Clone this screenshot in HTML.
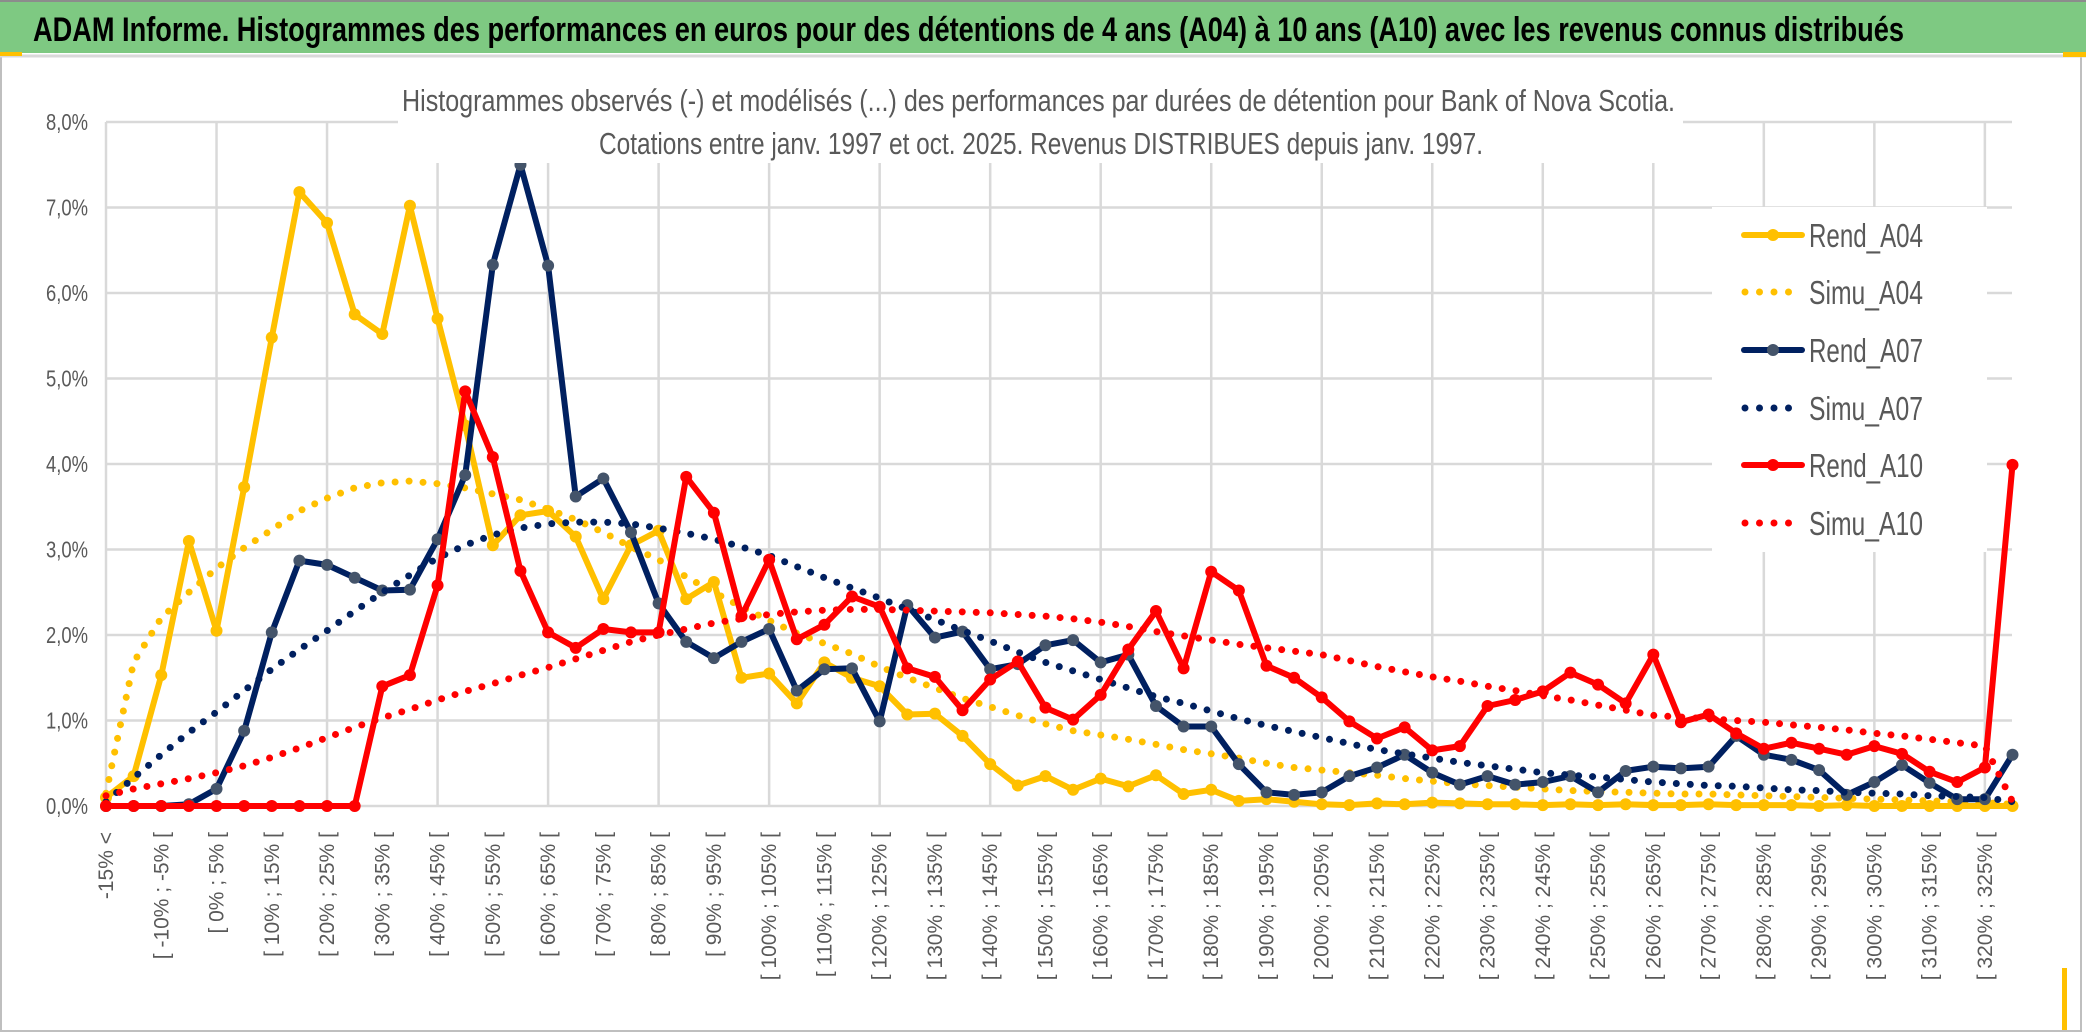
<!DOCTYPE html>
<html><head><meta charset="utf-8"><style>
html,body{margin:0;padding:0;background:#fff;}
svg{display:block;}
text{font-family:"Liberation Sans Narrow","Liberation Sans",sans-serif;}
</style></head><body>
<svg id="chart" width="2086" height="1033" viewBox="0 0 2086 1033" xmlns="http://www.w3.org/2000/svg">
<rect x="0" y="0" width="2086" height="1033" fill="#ffffff"/>
<rect x="1" y="1" width="2080" height="1030" fill="none" stroke="#bfbfbf" stroke-width="2"/>
<rect x="0" y="2" width="2086" height="51" fill="#7ec982"/>
<line x1="0" y1="1" x2="2086" y2="1" stroke="#8c8c8c" stroke-width="2"/>
<line x1="0" y1="56" x2="2086" y2="56" stroke="#d9d9d9" stroke-width="3"/>
<rect x="0" y="52" width="22" height="4" fill="#ffc000"/>
<rect x="2063" y="52" width="23" height="5" fill="#ffc000"/>
<rect x="2062" y="968" width="5" height="62" fill="#ffc000"/>
<text x="33" y="41" font-size="34" font-weight="bold" fill="#000" textLength="1871" lengthAdjust="spacingAndGlyphs">ADAM Informe. Histogrammes des performances en euros pour des détentions de 4 ans (A04) à 10 ans (A10) avec les revenus connus distribués</text>
<g id="grid"></g>
<g id="yaxis"></g>
<g id="xaxis"></g>
<g id="series"></g>
<rect x="398" y="62" width="1285" height="101" fill="#ffffff"/>
<text x="402" y="111" font-size="31" fill="#595959" textLength="1273" lengthAdjust="spacingAndGlyphs">Histogrammes observés (-) et modélisés (...) des performances par durées de détention pour Bank of Nova Scotia.</text>
<text x="599" y="154" font-size="31" fill="#595959" textLength="884" lengthAdjust="spacingAndGlyphs">Cotations entre janv. 1997 et oct. 2025. Revenus DISTRIBUES depuis janv. 1997.</text>
<rect x="1712" y="207" width="275" height="345" fill="#ffffff"/>
<g id="legend"></g>
</svg>
<script>
const categories = ["-15% <"];
for (let a = -15; a <= 325; a += 5) categories.push("[ " + a + "% ; " + (a + 5) + "% [");
const rendA04 = [0.1,0.35,1.53,3.1,2.05,3.73,5.48,7.18,6.82,5.75,5.52,7.02,5.7,4.45,3.05,3.4,3.45,3.15,2.42,3.05,3.22,2.42,2.62,1.5,1.55,1.2,1.68,1.5,1.4,1.07,1.08,0.82,0.49,0.24,0.35,0.19,0.32,0.23,0.36,0.14,0.19,0.06,0.08,0.05,0.02,0.01,0.03,0.02,0.04,0.03,0.02,0.02,0.01,0.02,0.01,0.02,0.01,0.01,0.02,0.01,0.01,0.01,0,0.01,0,0,0,0,0,0];
const simuA04 = [0.15,1.68,2.2,2.5,2.78,3.02,3.23,3.45,3.6,3.72,3.78,3.8,3.77,3.72,3.65,3.58,3.47,3.35,3.2,3.03,2.88,2.68,2.5,2.33,2.17,2.02,1.9,1.78,1.63,1.5,1.38,1.26,1.16,1.06,0.96,0.88,0.83,0.78,0.72,0.66,0.61,0.56,0.5,0.45,0.42,0.39,0.36,0.32,0.29,0.26,0.24,0.22,0.2,0.18,0.17,0.16,0.15,0.14,0.14,0.13,0.12,0.11,0.1,0.09,0.08,0.07,0.06,0.05,0.04,0.02];
const rendA07 = [0,0,0,0.02,0.2,0.88,2.03,2.87,2.82,2.67,2.52,2.53,3.12,3.87,6.33,7.5,6.32,3.62,3.83,3.2,2.37,1.92,1.73,1.92,2.07,1.35,1.6,1.61,0.99,2.35,1.97,2.04,1.6,1.66,1.88,1.94,1.68,1.77,1.17,0.93,0.93,0.49,0.16,0.13,0.16,0.35,0.45,0.6,0.39,0.25,0.35,0.25,0.28,0.35,0.16,0.41,0.46,0.44,0.46,0.82,0.6,0.54,0.42,0.13,0.28,0.48,0.27,0.08,0.08,0.6];
const simuA07 = [0.05,0.33,0.6,0.86,1.1,1.35,1.6,1.83,2.05,2.28,2.5,2.7,2.9,3.05,3.17,3.25,3.3,3.32,3.32,3.3,3.25,3.19,3.12,3.03,2.93,2.8,2.67,2.55,2.43,2.3,2.18,2.05,1.93,1.8,1.68,1.58,1.48,1.38,1.28,1.2,1.11,1.02,0.94,0.87,0.8,0.73,0.66,0.61,0.56,0.51,0.47,0.43,0.39,0.36,0.34,0.31,0.28,0.26,0.24,0.23,0.21,0.19,0.18,0.16,0.15,0.14,0.12,0.11,0.1,0.05];
const rendA10 = [0,0,0,0,0,0,0,0,0,0,1.4,1.53,2.58,4.85,4.08,2.75,2.03,1.85,2.07,2.03,2.03,3.85,3.43,2.22,2.88,1.95,2.12,2.45,2.33,1.61,1.51,1.12,1.48,1.69,1.15,1.01,1.3,1.83,2.28,1.61,2.74,2.52,1.64,1.5,1.27,0.99,0.79,0.92,0.65,0.7,1.17,1.24,1.34,1.56,1.42,1.2,1.77,0.98,1.07,0.85,0.67,0.74,0.67,0.6,0.7,0.61,0.4,0.28,0.45,3.99];
const simuA10 = [0.12,0.2,0.26,0.32,0.39,0.47,0.57,0.68,0.8,0.92,1.03,1.13,1.24,1.34,1.43,1.53,1.62,1.72,1.82,1.92,2.0,2.07,2.14,2.19,2.24,2.27,2.29,2.3,2.3,2.29,2.28,2.27,2.26,2.24,2.22,2.19,2.15,2.1,2.04,1.99,1.94,1.89,1.85,1.81,1.77,1.7,1.63,1.57,1.51,1.46,1.4,1.35,1.29,1.24,1.18,1.12,1.06,1.04,1.02,1.0,0.98,0.95,0.92,0.89,0.85,0.82,0.78,0.74,0.7,0.05];
const yTicks = [0,1,2,3,4,5,6,7,8];
const yTickLabels = ["0,0%","1,0%","2,0%","3,0%","4,0%","5,0%","6,0%","7,0%","8,0%"];
const seriesNames = ["Rend_A04","Simu_A04","Rend_A07","Simu_A07","Rend_A10","Simu_A10"];

const NS = "http://www.w3.org/2000/svg";
const X0 = 106, XSTEP = (2012.5 - 106) / (categories.length - 1);
const Y0 = 806, YUNIT = 85.5;
function xPos(i){ return X0 + i * XSTEP; }
function yPos(v){ return Y0 - v * YUNIT; }
function mk(tag, attrs, parent){
  const e = document.createElementNS(NS, tag);
  for (const k in attrs) e.setAttribute(k, attrs[k]);
  parent.appendChild(e);
  return e;
}
const grid = document.getElementById('grid');
yTicks.forEach((t, k) => {
  const ln = mk('line', {x1: X0, y1: yPos(t), x2: 2012, y2: yPos(t), stroke: '#d9d9d9', 'stroke-width': 2.5}, grid);
  
  
});
for (let i = 0; i < categories.length; i += 4) {
  const ln = mk('line', {x1: xPos(i), y1: yPos(8), x2: xPos(i), y2: Y0, stroke: '#d9d9d9', 'stroke-width': 2.5}, grid);
  
  
}
const yaxis = document.getElementById('yaxis');
yTicks.forEach((t, k) => {
  const tx = mk('text', {x: 88, y: yPos(t) + 8, 'text-anchor': 'end', 'font-size': 23, fill: '#595959', textLength: 42, lengthAdjust: 'spacingAndGlyphs'}, yaxis);
  tx.textContent = yTickLabels[k];
  
  
});
const xaxis = document.getElementById('xaxis');
for (let i = 0; i < categories.length; i += 2) {
  const tx = mk('text', {transform: 'translate(' + (xPos(i) + 7) + ',832) rotate(-90)', 'text-anchor': 'end', 'font-size': 21, fill: '#595959'}, xaxis);
  tx.textContent = categories[i];
  
  
}
const seriesDefs = [
  {data: rendA04, color: '#ffc000', dotted: false, marker: '#ffc000'},
  {data: simuA04, color: '#ffc000', dotted: true},
  {data: rendA07, color: '#002060', dotted: false, marker: '#44546a'},
  {data: simuA07, color: '#002060', dotted: true},
  {data: rendA10, color: '#ff0000', dotted: false, marker: '#ff0000'},
  {data: simuA10, color: '#ff0000', dotted: true}
];
const sg = document.getElementById('series');
seriesDefs.forEach((s, k) => {
  const g = mk('g', {}, sg);
  
  
  const pts = s.data.map((v, i) => xPos(i).toFixed(1) + ',' + yPos(v).toFixed(1)).join(' ');
  const attrs = {points: pts, fill: 'none', stroke: s.color, 'stroke-linejoin': 'round'};
  if (s.dotted) { attrs['stroke-width'] = 7; attrs['stroke-dasharray'] = '0 14'; attrs['stroke-linecap'] = 'round'; }
  else { attrs['stroke-width'] = 6; }
  const pl = mk('polyline', attrs, g);
  
  
  if (!s.dotted) {
    s.data.forEach((v, i) => {
      const c = mk('circle', {cx: xPos(i), cy: yPos(v), r: 6, fill: s.marker}, g);
      
      
    });
  }
});
const lg = document.getElementById('legend');
const rowY = [235, 292, 350, 408, 465, 523];
seriesDefs.forEach((s, k) => {
  const g = mk('g', {}, lg);
  
  
  const y = rowY[k];
  if (s.dotted) {
    const ln = mk('line', {x1: 1745, y1: y, x2: k === 5 ? 1802 : 1790, y2: y, stroke: s.color, 'stroke-width': 7, 'stroke-dasharray': '0 14.5', 'stroke-linecap': 'round'}, g);
    
    
  } else {
    const ln = mk('line', {x1: 1744, y1: y, x2: 1802, y2: y, stroke: s.color, 'stroke-width': 6, 'stroke-linecap': 'round'}, g);
    
    
    const c = mk('circle', {cx: 1773, cy: y, r: 6, fill: s.marker}, g);
    
    
  }
  const tx = mk('text', {x: 1809, y: y + 12, 'font-size': 33, fill: '#595959', textLength: 114, lengthAdjust: 'spacingAndGlyphs'}, g);
  tx.textContent = seriesNames[k];
  
  
});
</script>
</body></html>
